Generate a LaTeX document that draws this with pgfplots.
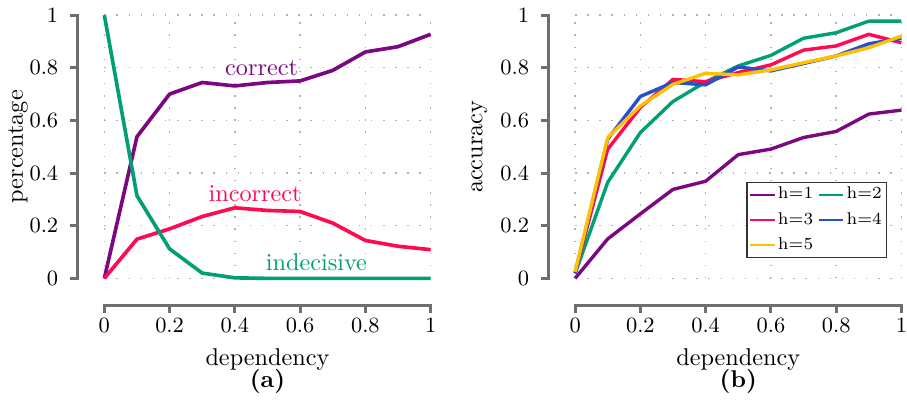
\documentclass[border=0pt]{standalone}
\usepackage{pgfplots}
\pgfplotsset{compat=1.18}
\definecolor{cpurple}{RGB}{123,8,128}
\definecolor{cgreen}{RGB}{0,160,116}
\definecolor{cred}{RGB}{255,10,80}
\definecolor{cblue}{RGB}{40,80,200}
\definecolor{cyellow}{RGB}{255,192,0}
\definecolor{axgray}{RGB}{110,110,110}
\pgfplotsset{
  myaxis/.style={
    scale only axis, width=134.6pt, height=108.6pt,
    xmin=0, xmax=1, ymin=0, ymax=1,
    xtick={0,0.2,0.4,0.6,0.8,1}, ytick={0,0.2,0.4,0.6,0.8,1},
    axis line style={draw=none},
    major tick length=0pt,
    tick style={draw=none},
    xticklabel shift=13pt,
    yticklabel shift=15.5pt,
    xticklabel style={inner xsep=0pt},
    tick label style={font=\fontsize{9}{10}\selectfont},
    grid=major,
    major grid style={black!30, line width=0.6pt, dash pattern=on 0.6pt off 4.4pt},
    clip=false,
    label style={font=\fontsize{10}{12}\selectfont},
    xlabel=dependency,
    xlabel style={at={(axis description cs:0.5,-0.31)}, anchor=center},
  },
  axframe/.style={forget plot, draw=axgray, color=axgray, line width=1.2pt, mark=none},
}
\begin{document}
\begin{tikzpicture}
\begin{axis}[myaxis, at={(0,0)}, anchor=south west,
  ylabel=percentage,
  ylabel style={at={(axis description cs:-0.2645,0.5)}, anchor=center}]
% detached axis frame
\addplot[axframe] coordinates {(0,-0.1298) (0,-0.1022) (1,-0.1022) (1,-0.1298)};
\addplot[axframe] coordinates {(0.2,-0.1022) (0.2,-0.1298)};
\addplot[axframe] coordinates {(0.4,-0.1022) (0.4,-0.1298)};
\addplot[axframe] coordinates {(0.6,-0.1022) (0.6,-0.1298)};
\addplot[axframe] coordinates {(0.8,-0.1022) (0.8,-0.1298)};
\addplot[axframe] coordinates {(-0.1048,0) (-0.0825,0) (-0.0825,1) (-0.1048,1)};
\addplot[axframe] coordinates {(-0.0825,0.2) (-0.1048,0.2)};
\addplot[axframe] coordinates {(-0.0825,0.4) (-0.1048,0.4)};
\addplot[axframe] coordinates {(-0.0825,0.6) (-0.1048,0.6)};
\addplot[axframe] coordinates {(-0.0825,0.8) (-0.1048,0.8)};
% data
\addplot[cpurple, line width=1.5pt, line join=round] coordinates {
 (0,0) (0.1,0.538) (0.2,0.70) (0.3,0.744) (0.4,0.731) (0.5,0.744)
 (0.6,0.750) (0.7,0.790) (0.8,0.860) (0.9,0.880) (1.0,0.927)};
\addplot[cred, line width=1.5pt, line join=round] coordinates {
 (0,0) (0.1,0.149) (0.2,0.188) (0.3,0.235) (0.4,0.268) (0.5,0.258)
 (0.6,0.254) (0.7,0.210) (0.8,0.144) (0.9,0.122) (1.0,0.109)};
\addplot[cgreen, line width=1.5pt, line join=round] coordinates {
 (0,1.0) (0.1,0.314) (0.2,0.112) (0.3,0.020) (0.4,0.002) (0.5,0)
 (0.6,0) (0.7,0) (0.8,0) (0.9,0) (1.0,0)};
\node[cpurple, font=\fontsize{10}{12}\selectfont] at (axis cs:0.482,0.80) {correct};
\node[cred, font=\fontsize{10}{12}\selectfont] at (axis cs:0.462,0.321) {incorrect};
\node[cgreen, font=\fontsize{10}{12}\selectfont] at (axis cs:0.65,0.062) {indecisive};
\node[font=\bfseries\fontsize{10}{12}\selectfont, inner ysep=6pt] at (axis description cs:0.5,-0.39) {(a)};
\end{axis}
\begin{axis}[myaxis, at={(194.2pt,0)}, anchor=south west,
  ylabel=accuracy,
  ylabel style={at={(axis description cs:-0.2935,0.5)}, anchor=center},
  legend style={at={(axis cs:0.957,0.076)}, anchor=south east,
    font=\fontsize{7}{8}\selectfont, draw=black!80, line width=0.6pt,
    inner sep=1pt, row sep=2pt, nodes={inner sep=1pt},
    /tikz/every even column/.append style={column sep=1pt}},
  legend columns=2,
  legend image code/.code={\draw[line width=0.8pt] (0cm,0cm) -- (0.35cm,0cm);}]
% detached axis frame
\addplot[axframe] coordinates {(0,-0.1298) (0,-0.1022) (1,-0.1022) (1,-0.1298)};
\addplot[axframe] coordinates {(0.2,-0.1022) (0.2,-0.1298)};
\addplot[axframe] coordinates {(0.4,-0.1022) (0.4,-0.1298)};
\addplot[axframe] coordinates {(0.6,-0.1022) (0.6,-0.1298)};
\addplot[axframe] coordinates {(0.8,-0.1022) (0.8,-0.1298)};
\addplot[axframe] coordinates {(-0.1048,0) (-0.0825,0) (-0.0825,1) (-0.1048,1)};
\addplot[axframe] coordinates {(-0.0825,0.2) (-0.1048,0.2)};
\addplot[axframe] coordinates {(-0.0825,0.4) (-0.1048,0.4)};
\addplot[axframe] coordinates {(-0.0825,0.6) (-0.1048,0.6)};
\addplot[axframe] coordinates {(-0.0825,0.8) (-0.1048,0.8)};
% data
\addplot[cpurple, line width=1.4pt, line join=round] coordinates {
 (0,0) (0.1,0.150) (0.2,0.245) (0.3,0.338) (0.4,0.369) (0.5,0.470)
 (0.6,0.491) (0.7,0.535) (0.8,0.558) (0.9,0.624) (1.0,0.639)};
\addlegendentry{h=1}
\addplot[cgreen, line width=1.4pt, line join=round] coordinates {
 (0,0.018) (0.1,0.365) (0.2,0.554) (0.3,0.672) (0.4,0.746) (0.5,0.807)
 (0.6,0.847) (0.7,0.912) (0.8,0.933) (0.9,0.977) (1.0,0.977)};
\addlegendentry{h=2}
\addplot[cred, line width=1.4pt, line join=round] coordinates {
 (0,0.02) (0.1,0.491) (0.2,0.649) (0.3,0.756) (0.4,0.747) (0.5,0.782)
 (0.6,0.811) (0.7,0.867) (0.8,0.883) (0.9,0.927) (1.0,0.895)};
\addlegendentry{h=3}
\addplot[cblue, line width=1.4pt, line join=round] coordinates {
 (0,0.02) (0.1,0.529) (0.2,0.691) (0.3,0.744) (0.4,0.735) (0.5,0.803)
 (0.6,0.788) (0.7,0.816) (0.8,0.845) (0.9,0.891) (1.0,0.912)};
\addlegendentry{h=4}
\addplot[cyellow, line width=1.4pt, line join=round] coordinates {
 (0,0.025) (0.1,0.535) (0.2,0.655) (0.3,0.737) (0.4,0.779) (0.5,0.773)
 (0.6,0.792) (0.7,0.819) (0.8,0.845) (0.9,0.876) (1.0,0.920)};
\addlegendentry{h=5}
\node[font=\bfseries\fontsize{10}{12}\selectfont, inner ysep=6pt] at (axis description cs:0.5,-0.39) {(b)};
\end{axis}
\draw[black!57, line width=1.2pt] (0pt,-14.1pt) -- (0pt,-11.1pt) -- (134.6pt,-11.1pt) -- (134.6pt,-14.1pt);
\draw[black!57, line width=1.2pt] (-14.1pt,0pt) -- (-11.1pt,0pt) -- (-11.1pt,108.6pt) -- (-14.1pt,108.6pt);
\draw[black!57, line width=1.2pt] (194.2pt,-14.1pt) -- (194.2pt,-11.1pt) -- (328.8pt,-11.1pt) -- (328.8pt,-14.1pt);
\draw[black!57, line width=1.2pt] (180.1pt,0pt) -- (183.1pt,0pt) -- (183.1pt,108.6pt) -- (180.1pt,108.6pt);
\end{tikzpicture}
\end{document}
